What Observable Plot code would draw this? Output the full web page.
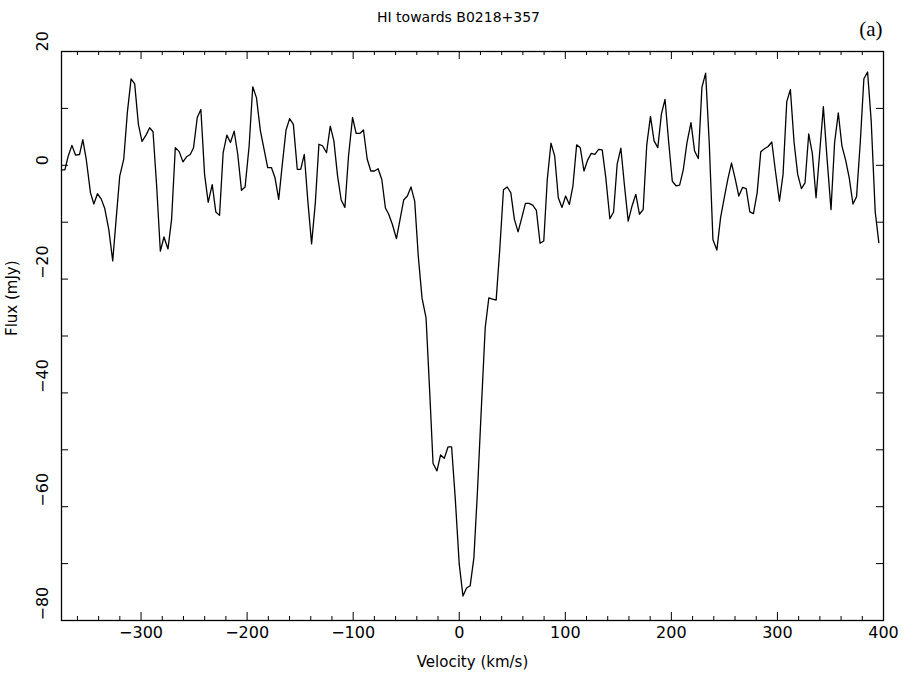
<!DOCTYPE html>
<html>
<head>
<meta charset="utf-8">
<script src="https://cdn.jsdelivr.net/npm/d3@7"></script>
<script src="https://cdn.jsdelivr.net/npm/@observablehq/plot@0.6"></script>
<style>
  html, body { margin: 0; padding: 0; background: white; }
</style>
</head>
<body>
<div id="chart"></div>
<script>
// Velocity channels (km/s)
const velocity = [
  -374.3,-371.8,-368.7,-365.2,-361.8,-358.0,-354.9,-351.7,-347.7,-344.5,
  -341.1,-337.6,-334.2,-330.4,-326.7,-323.5,-320.1,-316.3,-312.9,-309.4,
  -306.0,-302.5,-299.1,-295.3,-291.9,-288.7,-285.3,-281.8,-278.4,-274.6,
  -271.2,-267.7,-264.0,-260.5,-257.1,-253.6,-250.5,-247.0,-243.6,-240.1,
  -236.7,-232.9,-229.5,-226.0,-222.6,
  -219.1,-215.7,-212.2,-208.8,-205.3,-201.9,-198.1,-194.7,-191.2,-187.5,
  -184.0,-180.6,-177.1,-173.7,-170.2,-166.8,-163.3,-159.9,-156.4,-152.7,
  -149.5,-146.1,-142.6,-139.2,-135.7,-132.3,-128.8,-125.1,-121.6,-118.2,
  -114.7,-111.3,-107.8,-104.4,-100.6,-97.2,-93.7,-90.3,-86.8,-83.4,
  -79.9,-76.5,-73.0,-69.6,-66.5,
  -63.0,-59.2,-55.8,-52.4,-48.9,-45.5,-42.0,-38.6,-35.1,-31.3,
  -27.9,-24.7,-21.0,-17.6,-14.1,-10.6,-7.2,-3.8,0.0,3.5,
  6.9,10.3,13.8,17.2,20.7,24.5,27.9,31.3,34.8,38.2,
  41.7,45.1,48.6,52.0,55.5,59.0,62.4,65.8,69.3,72.7,
  76.2,79.7,83.0,86.5,
  90.0,93.4,96.9,100.3,103.8,107.2,110.7,114.1,117.6,121.0,
  124.5,127.9,131.4,134.8,138.2,142.0,145.5,148.9,152.4,155.8,
  159.3,163.0,166.5,169.9,173.4,176.8,180.3,183.7,187.2,190.6,
  194.0,197.5,200.9,204.4,207.8,211.3,214.7,218.5,221.9,225.4,
  228.8,232.3,235.7,239.2,242.9,
  246.4,249.9,253.3,256.7,260.2,263.6,267.1,270.5,274.0,277.4,
  280.9,284.3,287.8,291.2,294.7,298.1,301.9,305.3,308.8,312.2,
  315.7,319.1,322.6,326.0,329.5,332.9,336.4,339.8,343.3,346.7,
  350.5,353.9,357.4,360.8,364.3,367.7,371.2,374.6,378.1,381.5,
  385.0,388.4,392.2,395.6
];

// Flux (mJy)
const flux = [
  -0.8,-0.8,1.6,3.5,1.8,1.9,4.5,1.1,-4.8,-6.8,
  -5.0,-5.9,-7.6,-11.3,-16.8,-9.5,-1.9,1.1,9.3,15.2,
  14.3,7.2,4.2,5.3,6.6,5.9,-3.6,-15.1,-12.6,-14.7,
  -9.5,3.1,2.4,0.6,1.5,1.9,3.1,8.4,9.8,-1.6,
  -6.5,-3.4,-8.2,-8.8,2.2,
  5.3,4.0,6.0,1.9,-4.4,-3.8,3.4,13.8,11.9,6.1,
  2.8,-0.4,-0.4,-2.2,-6.0,0.2,6.2,8.2,7.2,-0.7,
  -0.7,1.9,-6.6,-13.8,-6.6,3.7,3.4,2.2,6.9,4.3,
  -1.9,-6.1,-7.4,1.6,8.4,5.6,5.6,6.2,1.1,-1.0,
  -1.0,-0.6,-2.5,-7.5,-8.6,
  -10.4,-12.9,-9.5,-6.1,-5.4,-3.8,-6.3,-16.0,-23.3,-26.8,
  -39.6,-52.4,-53.7,-50.9,-51.5,-49.5,-49.5,-58.4,-70.1,-75.7,
  -74.3,-73.9,-69.0,-57.2,-43.2,-28.5,-23.3,-23.5,-23.7,-14.8,
  -4.3,-3.8,-4.8,-9.5,-11.7,-9.2,-6.7,-6.7,-7.0,-7.9,
  -13.7,-13.3,-2.5,3.9,
  1.6,-5.7,-7.4,-5.4,-6.9,-3.6,3.6,3.1,-1.0,0.9,
  2.1,1.9,2.8,2.7,-2.2,-9.4,-8.2,0.2,3.0,-3.6,
  -9.8,-7.1,-5.1,-8.6,-7.8,3.6,8.6,4.3,3.1,9.0,
  11.6,4.0,-2.8,-3.6,-3.5,-0.7,4.0,7.5,2.5,1.2,
  13.7,16.2,4.0,-13.1,-14.9,
  -9.2,-5.7,-2.4,0.4,-2.4,-5.4,-3.9,-4.1,-8.2,-8.5,
  -4.8,2.4,2.9,3.3,4.1,-1.0,-6.3,-1.6,11.2,13.3,
  4.0,-1.6,-4.1,-3.1,5.5,2.1,-5.7,2.2,10.3,1.4,
  -7.8,4.0,9.2,3.4,0.9,-2.2,-6.8,-5.5,4.0,15.2,
  16.4,7.8,-8.2,-13.6
];

// Axis ticks and labels
const xMajorTicks = [-300, -200, -100, 0, 100, 200, 300, 400];
const xMinorTicks = [-360, -340, -320, -280, -260, -240, -220, -180, -160, -140, -120,
  -80, -60, -40, -20, 20, 40, 60, 80, 120, 140, 160, 180, 220, 240, 260, 280,
  320, 340, 360, 380];
const yTicks = [-70, -60, -50, -40, -30, -20, -10, 0, 10];
const yLabels = [-80, -60, -40, -20, 0, 20];

const titleText = "HI towards B0218+357";
const panelText = "(a)";
const xTitle = "Velocity (km/s)";
const yTitle = "Flux (mJy)";

const W = 904, H = 684;
const mL = 61, mR = 21, mT = 51, mB = 64;
const innerW = W - mL - mR, innerH = H - mT - mB;

const data = velocity.map((v, i) => ({v, f: flux[i]}));
const fmt = d => d < 0 ? "\u2212" + Math.abs(d) : String(d);
const font = "DejaVu Sans, sans-serif";

const chart = Plot.plot({
  width: W,
  height: H,
  marginLeft: mL,
  marginRight: mR,
  marginTop: mT,
  marginBottom: mB,
  x: {domain: [-375, 400], axis: null},
  y: {domain: [-80, 20], axis: null},
  style: {fontFamily: font, background: "white", color: "black"},
  marks: [
    Plot.line(data, {x: "v", y: "f", stroke: "black", strokeWidth: 1.3}),
    Plot.frame({stroke: "black", strokeWidth: 1.3}),
    // bottom ticks
    Plot.tickX(xMajorTicks, {x: d => d, insetTop: innerH - 8, stroke: "black"}),
    Plot.tickX(xMinorTicks, {x: d => d, insetTop: innerH - 4, stroke: "black"}),
    // top ticks
    Plot.tickX(xMajorTicks, {x: d => d, insetBottom: innerH - 8, stroke: "black"}),
    Plot.tickX(xMinorTicks, {x: d => d, insetBottom: innerH - 4, stroke: "black"}),
    // left / right ticks
    Plot.tickY(yTicks, {y: d => d, insetRight: innerW - 7, stroke: "black"}),
    Plot.tickY(yTicks, {y: d => d, insetLeft: innerW - 7, stroke: "black"}),
    // tick labels
    Plot.text(xMajorTicks, {x: d => d, frameAnchor: "bottom", dy: 17, text: fmt, fontSize: 16, fill: "black"}),
    Plot.text(yLabels, {y: d => d, frameAnchor: "left", dx: -19, rotate: -90, text: fmt, fontSize: 16, fill: "black"}),
    // axis titles
    Plot.text([xTitle], {frameAnchor: "bottom", dy: 46, text: d => d, fontSize: 15, fill: "black"}),
    Plot.text([yTitle], {frameAnchor: "left", dx: -49, rotate: -90, text: d => d, fontSize: 15, fill: "black"}),
    // title and panel label
    Plot.text([titleText], {frameAnchor: "top", dy: -39, dx: -14, text: d => d, fontSize: 14, fill: "black"}),
    Plot.text([panelText], {frameAnchor: "top-right", dy: -30, dx: -1, textAnchor: "end", text: d => d,
      fontSize: 21, fontFamily: "Liberation Serif, serif", fill: "black"})
  ]
});

document.getElementById("chart").appendChild(chart);
</script>
</body>
</html>
